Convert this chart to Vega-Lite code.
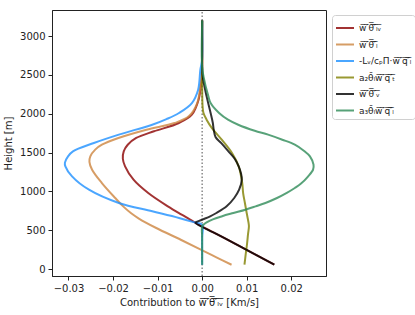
{
  "$schema": "https://vega.github.io/schema/vega-lite/v6.json",
  "width": 274,
  "height": 266,
  "padding": {"top": 7, "left": 3, "right": 0, "bottom": 5},
  "config": {
    "font": "DejaVu Sans",
    "view": {"stroke": "#222", "strokeWidth": 1},
    "axis": {"grid": false, "domainColor": "#222", "tickColor": "#222", "labelColor": "#222", "titleColor": "#222", "labelFontSize": 10, "titleFontSize": 10, "titleFontWeight": "normal", "tickSize": 4, "labelPadding": 3}
  },
  "datasets": {
    "curves": [
      {"s": "lv", "h": 3200, "x": 0}, {"s": "lv", "h": 2600, "x": 0}, {"s": "lv", "h": 2400, "x": -0.0002}, {"s": "lv", "h": 2180, "x": -0.0008}, {"s": "lv", "h": 1987, "x": -0.0023}, {"s": "lv", "h": 1880, "x": -0.0052}, {"s": "lv", "h": 1773, "x": -0.0108}, {"s": "lv", "h": 1687, "x": -0.0148}, {"s": "lv", "h": 1600, "x": -0.0167}, {"s": "lv", "h": 1515, "x": -0.0176}, {"s": "lv", "h": 1420, "x": -0.0178}, {"s": "lv", "h": 1322, "x": -0.0173}, {"s": "lv", "h": 1150, "x": -0.0154}, {"s": "lv", "h": 978, "x": -0.0121}, {"s": "lv", "h": 807, "x": -0.0077}, {"s": "lv", "h": 700, "x": -0.0046}, {"s": "lv", "h": 640, "x": -0.0028}, {"s": "lv", "h": 595, "x": -0.0015}, {"s": "lv", "h": 450, "x": 0.0033}, {"s": "lv", "h": 300, "x": 0.0082}, {"s": "lv", "h": 175, "x": 0.0123}, {"s": "lv", "h": 55, "x": 0.0162},
      {"s": "l", "h": 3200, "x": 0}, {"s": "l", "h": 2600, "x": 0}, {"s": "l", "h": 2450, "x": -0.0001}, {"s": "l", "h": 2352, "x": -0.0004}, {"s": "l", "h": 2137, "x": -0.0011}, {"s": "l", "h": 1966, "x": -0.003}, {"s": "l", "h": 1880, "x": -0.0062}, {"s": "l", "h": 1794, "x": -0.0125}, {"s": "l", "h": 1687, "x": -0.0188}, {"s": "l", "h": 1600, "x": -0.0225}, {"s": "l", "h": 1537, "x": -0.024}, {"s": "l", "h": 1451, "x": -0.0251}, {"s": "l", "h": 1380, "x": -0.0253}, {"s": "l", "h": 1279, "x": -0.0247}, {"s": "l", "h": 1107, "x": -0.0225}, {"s": "l", "h": 914, "x": -0.0195}, {"s": "l", "h": 800, "x": -0.0176}, {"s": "l", "h": 721, "x": -0.0160}, {"s": "l", "h": 650, "x": -0.0142}, {"s": "l", "h": 528, "x": -0.0103}, {"s": "l", "h": 377, "x": -0.0048}, {"s": "l", "h": 249, "x": -0.0003}, {"s": "l", "h": 150, "x": 0.0032}, {"s": "l", "h": 55, "x": 0.0066},
      {"s": "q", "h": 3200, "x": 0}, {"s": "q", "h": 2700, "x": 0}, {"s": "q", "h": 2566, "x": -0.0004}, {"s": "q", "h": 2309, "x": -0.0009}, {"s": "q", "h": 2137, "x": -0.0023}, {"s": "q", "h": 2009, "x": -0.0052}, {"s": "q", "h": 1930, "x": -0.008}, {"s": "q", "h": 1858, "x": -0.0112}, {"s": "q", "h": 1730, "x": -0.0187}, {"s": "q", "h": 1622, "x": -0.0243}, {"s": "q", "h": 1515, "x": -0.029}, {"s": "q", "h": 1451, "x": -0.0301}, {"s": "q", "h": 1370, "x": -0.0308}, {"s": "q", "h": 1322, "x": -0.0307}, {"s": "q", "h": 1193, "x": -0.0292}, {"s": "q", "h": 1021, "x": -0.0254}, {"s": "q", "h": 850, "x": -0.0187}, {"s": "q", "h": 743, "x": -0.0112}, {"s": "q", "h": 657, "x": -0.0052}, {"s": "q", "h": 600, "x": -0.0017}, {"s": "q", "h": 570, "x": 0}, {"s": "q", "h": 400, "x": 0}, {"s": "q", "h": 200, "x": 0}, {"s": "q", "h": 55, "x": 0},
      {"s": "qt", "h": 3200, "x": 0}, {"s": "qt", "h": 2400, "x": 0}, {"s": "qt", "h": 2094, "x": 0.0001}, {"s": "qt", "h": 2009, "x": 0.0003}, {"s": "qt", "h": 1923, "x": 0.001}, {"s": "qt", "h": 1815, "x": 0.0022}, {"s": "qt", "h": 1665, "x": 0.0044}, {"s": "qt", "h": 1494, "x": 0.0067}, {"s": "qt", "h": 1322, "x": 0.0082}, {"s": "qt", "h": 1107, "x": 0.009}, {"s": "qt", "h": 978, "x": 0.0092}, {"s": "qt", "h": 850, "x": 0.0096}, {"s": "qt", "h": 721, "x": 0.01}, {"s": "qt", "h": 600, "x": 0.0104}, {"s": "qt", "h": 550, "x": 0.0105}, {"s": "qt", "h": 450, "x": 0.0103}, {"s": "qt", "h": 335, "x": 0.0101}, {"s": "qt", "h": 200, "x": 0.0098}, {"s": "qt", "h": 55, "x": 0.0095},
      {"s": "v", "h": 3200, "x": 0}, {"s": "v", "h": 2600, "x": 0}, {"s": "v", "h": 2450, "x": 0.0002}, {"s": "v", "h": 2223, "x": 0.001}, {"s": "v", "h": 2009, "x": 0.0019}, {"s": "v", "h": 1880, "x": 0.0024}, {"s": "v", "h": 1794, "x": 0.0026}, {"s": "v", "h": 1700, "x": 0.003}, {"s": "v", "h": 1620, "x": 0.0043}, {"s": "v", "h": 1515, "x": 0.0059}, {"s": "v", "h": 1420, "x": 0.0073}, {"s": "v", "h": 1322, "x": 0.0082}, {"s": "v", "h": 1236, "x": 0.0087}, {"s": "v", "h": 1150, "x": 0.0089}, {"s": "v", "h": 1021, "x": 0.0083}, {"s": "v", "h": 914, "x": 0.0072}, {"s": "v", "h": 807, "x": 0.0055}, {"s": "v", "h": 721, "x": 0.0032}, {"s": "v", "h": 678, "x": 0.0018}, {"s": "v", "h": 640, "x": 0.0002}, {"s": "v", "h": 610, "x": -0.0011}, {"s": "v", "h": 595, "x": -0.0015}, {"s": "v", "h": 450, "x": 0.0033}, {"s": "v", "h": 300, "x": 0.0082}, {"s": "v", "h": 175, "x": 0.0123}, {"s": "v", "h": 55, "x": 0.0162},
      {"s": "ql", "h": 3200, "x": 0}, {"s": "ql", "h": 2600, "x": 0}, {"s": "ql", "h": 2481, "x": 0.0003}, {"s": "ql", "h": 2223, "x": 0.0014}, {"s": "ql", "h": 2137, "x": 0.0019}, {"s": "ql", "h": 2009, "x": 0.0038}, {"s": "ql", "h": 1923, "x": 0.0058}, {"s": "ql", "h": 1858, "x": 0.0081}, {"s": "ql", "h": 1780, "x": 0.0118}, {"s": "ql", "h": 1730, "x": 0.0148}, {"s": "ql", "h": 1665, "x": 0.018}, {"s": "ql", "h": 1601, "x": 0.0208}, {"s": "ql", "h": 1520, "x": 0.0229}, {"s": "ql", "h": 1451, "x": 0.0242}, {"s": "ql", "h": 1343, "x": 0.025}, {"s": "ql", "h": 1280, "x": 0.0249}, {"s": "ql", "h": 1193, "x": 0.0238}, {"s": "ql", "h": 1100, "x": 0.0222}, {"s": "ql", "h": 1043, "x": 0.0208}, {"s": "ql", "h": 980, "x": 0.019}, {"s": "ql", "h": 914, "x": 0.0168}, {"s": "ql", "h": 850, "x": 0.0142}, {"s": "ql", "h": 807, "x": 0.012}, {"s": "ql", "h": 764, "x": 0.0097}, {"s": "ql", "h": 721, "x": 0.007}, {"s": "ql", "h": 680, "x": 0.0045}, {"s": "ql", "h": 640, "x": 0.0024}, {"s": "ql", "h": 600, "x": 0.001}, {"s": "ql", "h": 570, "x": 0.0003}, {"s": "ql", "h": 550, "x": 0}, {"s": "ql", "h": 400, "x": 0}, {"s": "ql", "h": 200, "x": 0}, {"s": "ql", "h": 55, "x": 0}
    ],
    "zero": [{"x": 0, "h": 3335}, {"x": 0, "h": -90}]
  },
  "layer": [
    {
      "data": {"name": "zero"},
      "mark": {"type": "line", "color": "#777", "strokeWidth": 1.3, "strokeDash": [1.5, 2]},
      "encoding": {
        "x": {"field": "x", "type": "quantitative", "scale": {"domain": [-0.0337, 0.0278], "nice": false, "zero": false}},
        "y": {"field": "h", "type": "quantitative", "scale": {"domain": [-90, 3335], "nice": false, "zero": false}},
        "order": {"field": "h"}
      }
    },
    {
      "data": {"name": "curves"},
      "mark": {"type": "line", "strokeWidth": 2, "opacity": 0.8, "clip": true, "interpolate": "catmull-rom"},
      "encoding": {
        "x": {
          "field": "x", "type": "quantitative",
          "scale": {"domain": [-0.0337, 0.0278], "nice": false, "zero": false},
          "axis": {"values": [-0.03, -0.02, -0.01, 0, 0.01, 0.02], "format": ".2f", "title": "Contribution to w\u0305\u2032\u0305\u03b8\u0305\u2032\u0305\u2097\u0305\u1d65\u0305 [Km/s]", "titlePadding": 4}
        },
        "y": {
          "field": "h", "type": "quantitative",
          "scale": {"domain": [-90, 3335], "nice": false, "zero": false},
          "axis": {"values": [0, 500, 1000, 1500, 2000, 2500, 3000], "format": "d", "title": "Height [m]", "titlePadding": 6}
        },
        "order": {"field": "h"},
        "color": {
          "field": "s", "type": "nominal",
          "scale": {"domain": ["lv", "l", "q", "qt", "v", "ql"], "range": ["darkred", "peru", "dodgerblue", "olive", "black", "seagreen"]},
          "legend": {
            "title": null,
            "orient": "none",
            "legendX": 280,
            "legendY": 5,
            "symbolType": "stroke",
            "symbolSize": 324,
            "symbolStrokeWidth": 2,
            "symbolOpacity": 0.8,
            "labelFontSize": 9,
            "labelOffset": 4,
            "labelColor": "#222",
            "rowPadding": 1.5,
            "padding": 3,
            "strokeColor": "#d0d0d0",
            "cornerRadius": 3,
            "fillColor": "white",
            "labelExpr": "datum.label == 'lv' ? 'w\u0305\u2032\u0305\u03b8\u0305\u2032\u0305\u2097\u0305\u1d65\u0305' : datum.label == 'l' ? 'w\u0305\u2032\u0305\u03b8\u0305\u2032\u0305\u2097\u0305' : datum.label == 'q' ? '-L\u1d65/c\u209a\u03a0\u00b7w\u0305\u2032\u0305q\u0305\u2032\u0305\u2097\u0305' : datum.label == 'qt' ? 'a\u2082\u03b8\u0304\u2097w\u0305\u2032\u0305q\u0305\u2032\u0305\u209c\u0305' : datum.label == 'v' ? 'w\u0305\u2032\u0305\u03b8\u0305\u2032\u0305\u1d65\u0305' : 'a\u2083\u03b8\u0304\u2097w\u0305\u2032\u0305q\u0305\u2032\u0305\u2097\u0305'"
          }
        }
      }
    }
  ]
}
